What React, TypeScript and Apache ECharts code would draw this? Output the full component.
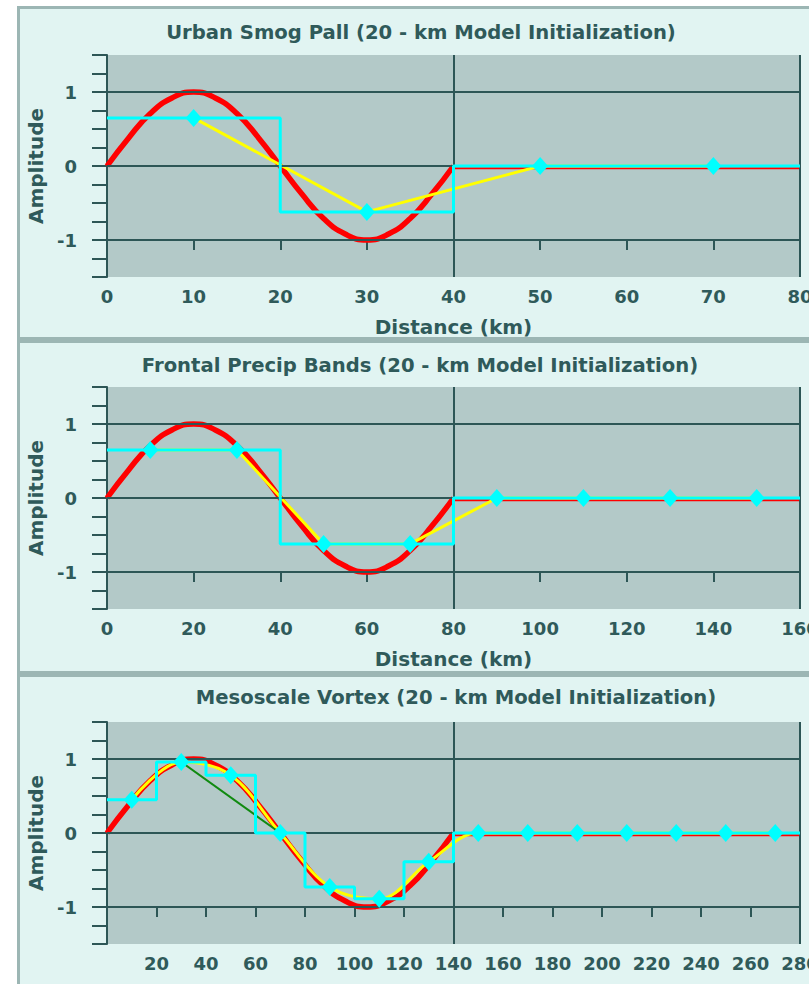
import React, { useEffect, useRef } from "react";
import * as echarts from "echarts";

// ---------- data ----------
const panelTitles = [
  "Urban Smog Pall (20 - km Model Initialization)",
  "Frontal Precip Bands (20 - km Model Initialization)",
  "Mesoscale Vortex (20 - km Model Initialization)",
];
const xAxisName = "Distance (km)";
const yAxisName = "Amplitude";

// normalised true wave shape (one wavelength, 17 samples)
const waveAmp = [0, 0.38, 0.71, 0.92, 1, 0.92, 0.71, 0.38, 0, -0.38, -0.71, -0.92, -1, -0.92, -0.71, -0.38, 0];

// Panel 1 – Urban Smog Pall (0..80 km)
const smogWaveX = [0, 2.5, 5, 7.5, 10, 12.5, 15, 17.5, 20, 22.5, 25, 27.5, 30, 32.5, 35, 37.5, 40];
const smogFlatX = [40, 80];
const smogFlatY = [-0.03, -0.03];
const smogGridX = [0, 20, 40, 80];
const smogGridY = [0.65, -0.62, 0, 0];
const smogPointX = [10, 30, 50, 70];
const smogPointY = [0.65, -0.62, 0, 0];

// Panel 2 – Frontal Precip Bands (0..160 km)
const frontWaveX = [0, 5, 10, 15, 20, 25, 30, 35, 40, 45, 50, 55, 60, 65, 70, 75, 80];
const frontFlatX = [80, 160];
const frontFlatY = [-0.03, -0.03];
const frontGridX = [0, 40, 80, 160];
const frontGridY = [0.65, -0.62, 0, 0];
const frontPointX = [10, 30, 50, 70, 90, 110, 130, 150];
const frontPointY = [0.65, 0.65, -0.62, -0.62, 0, 0, 0, 0];

// Panel 3 – Mesoscale Vortex (0..280 km)
const vortexWaveX = [0, 8.75, 17.5, 26.25, 35, 43.75, 52.5, 61.25, 70, 78.75, 87.5, 96.25, 105, 113.75, 122.5, 131.25, 140];
const vortexFlatX = [140, 280];
const vortexFlatY = [-0.03, -0.03];
const vortexGridX = [0, 20, 40, 60, 80, 100, 120, 140, 280];
const vortexGridY = [0.45, 0.96, 0.78, 0, -0.73, -0.89, -0.39, 0, 0];
const vortexPointX = [10, 30, 50, 70, 90, 110, 130, 150, 170, 190, 210, 230, 250, 270];
const vortexPointY = [0.45, 0.96, 0.78, 0, -0.73, -0.89, -0.39, 0, 0, 0, 0, 0, 0, 0];
const vortexGreenX = [30, 70];
const vortexGreenY = [0.96, 0];

// axis ranges / ticks
const xMax = [80, 160, 280];
const xMid = [40, 80, 140];
const xStep = [10, 20, 20];
const yTickLabels = [-1, 0, 1];

// ---------- styling ----------
const TEXT = "#2f5a5a";
const LINE = "#2d5656";
const PLOT_BG = "#b3c9c8";
const PANEL_BG = "#e1f4f2";
const PANEL_BORDER = "#9cb6b4";
const FONT = "DejaVu Sans";

const zip = (xs: number[], ys: number[]) => xs.map((x, i) => [x, ys[i]]);

const panels = [
  { wx: smogWaveX, fx: smogFlatX, fy: smogFlatY, gx: smogGridX, gy: smogGridY, px: smogPointX, py: smogPointY, smooth: false, green: null as null | number[][] },
  { wx: frontWaveX, fx: frontFlatX, fy: frontFlatY, gx: frontGridX, gy: frontGridY, px: frontPointX, py: frontPointY, smooth: false, green: null as null | number[][] },
  { wx: vortexWaveX, fx: vortexFlatX, fy: vortexFlatY, gx: vortexGridX, gy: vortexGridY, px: vortexPointX, py: vortexPointY, smooth: true, green: zip(vortexGreenX, vortexGreenY) },
];

const gridTops = [55, 387, 722];
const panelTops = [7, 341, 675];
const titleCenters = [[421, 32], [420, 365], [456, 697]];
const GRID_LEFT = 107;
const GRID_W = 693;
const GRID_H = 222;

export default function App() {
  const ref = useRef<HTMLDivElement>(null);

  useEffect(() => {
    if (!ref.current) return;
    const chart = echarts.init(ref.current, undefined, { renderer: "svg" });

    const grid: any[] = [];
    const xAxis: any[] = [];
    const yAxis: any[] = [];
    const series: any[] = [];
    const graphic: any[] = [];

    panels.forEach((p, i) => {
      graphic.push({
        type: "rect",
        z: -10,
        shape: { x: 18.5, y: panelTops[i] + 0.5, width: 830, height: i === 2 ? 360 : 331 },
        style: { fill: PANEL_BG, stroke: PANEL_BORDER, lineWidth: 3 },
        silent: true,
      });
      graphic.push({
        type: "text",
        x: titleCenters[i][0],
        y: titleCenters[i][1],
        z: 10,
        style: {
          text: panelTitles[i],
          fill: TEXT,
          fontFamily: FONT,
          fontWeight: "bold",
          fontSize: 19.6,
          align: "center",
          verticalAlign: "middle",
        },
      });

      grid.push({
        left: GRID_LEFT,
        top: gridTops[i],
        width: GRID_W,
        height: GRID_H,
        outerBoundsMode: "none",
        containLabel: false,
        show: true,
        backgroundColor: PLOT_BG,
        borderWidth: 0,
      });

      // main x axis: labels + name
      xAxis.push({
        gridIndex: i,
        type: "value",
        position: "bottom",
        min: 0,
        max: xMax[i],
        interval: xStep[i],
        axisLine: { show: false, onZero: false },
        axisTick: { show: false },
        splitLine: { show: false },
        axisLabel: {
          margin: 10,
          color: TEXT,
          fontFamily: FONT,
          fontWeight: "bold",
          fontSize: 18,
          showMaxLabel: true,
          showMinLabel: true,
          hideOverlap: false,
          formatter: (v: number) => (i === 2 && v === 0 ? "" : String(v)),
        },
        name: i === 2 ? "" : xAxisName,
        nameLocation: "middle",
        nameGap: 40,
        nameTextStyle: { color: TEXT, fontFamily: FONT, fontWeight: "bold", fontSize: 20 },
      });
      // secondary x axis: ticks hanging from the -1 line
      xAxis.push({
        gridIndex: i,
        type: "value",
        position: "bottom",
        offset: -GRID_H / 6,
        min: 0,
        max: xMax[i],
        interval: xStep[i],
        axisLine: { show: false, onZero: false },
        axisTick: { show: true, inside: false, length: 10, lineStyle: { color: LINE, width: 2 } },
        splitLine: { show: false },
        axisLabel: { show: false },
      });

      yAxis.push({
        gridIndex: i,
        type: "value",
        min: -1.5,
        max: 1.5,
        interval: 0.25,
        axisLine: { show: true, onZero: false, lineStyle: { color: LINE, width: 2 } },
        axisTick: { show: true, length: 15, lineStyle: { color: LINE, width: 2 } },
        splitLine: { show: false },
        axisLabel: {
          margin: 30,
          color: TEXT,
          fontFamily: FONT,
          fontWeight: "bold",
          fontSize: 18,
          formatter: (v: number) => (yTickLabels.indexOf(v) >= 0 ? String(v) : ""),
        },
        name: yAxisName,
        nameLocation: "middle",
        nameGap: 52,
        nameTextStyle: { color: TEXT, fontFamily: FONT, fontWeight: "bold", fontSize: 20 },
      });

      const xi = i * 2;
      const common = { xAxisIndex: xi, yAxisIndex: i, showSymbol: false, silent: true };

      series.push({
        ...common,
        type: "line",
        name: "guides" + i,
        data: [],
        z: 1,
        markLine: {
          silent: true,
          symbol: ["none", "none"],
          label: { show: false },
          lineStyle: { color: LINE, width: 2, type: "solid" },
          data: [
            { yAxis: -1 },
            { yAxis: 0 },
            { yAxis: 1 },
            { xAxis: xMid[i] },
            { xAxis: xMax[i] },
          ],
        },
      });
      series.push({
        ...common,
        type: "line",
        name: "true wave",
        data: zip(p.wx, waveAmp),
        smooth: true,
        lineStyle: { color: "#ff0000", width: 5.5 },
        z: 2,
      });
      series.push({
        ...common,
        type: "line",
        name: "true wave flat",
        data: zip(p.fx, p.fy),
        lineStyle: { color: "#ff0000", width: 2 },
        z: 2,
      });
      series.push({
        ...common,
        type: "line",
        name: "interpolated",
        data: zip(p.px, p.py),
        smooth: p.smooth ? 0.35 : false,
        lineStyle: { color: "#ffff00", width: 3 },
        z: 3,
      });
      if (p.green) {
        series.push({
          ...common,
          type: "line",
          name: "linear",
          data: p.green,
          lineStyle: { color: "#108a10", width: 2 },
          z: 4,
        });
      }
      series.push({
        ...common,
        type: "line",
        name: "grid average",
        data: zip(p.gx, p.gy),
        step: "end",
        lineStyle: { color: "#00ffff", width: 3 },
        z: 5,
      });
      series.push({
        xAxisIndex: xi,
        yAxisIndex: i,
        silent: true,
        type: "scatter",
        name: "grid points",
        data: zip(p.px, p.py),
        symbol: "diamond",
        symbolSize: [16, 18],
        itemStyle: { color: "#00ffff", opacity: 1 },
        z: 6,
      });
    });

    chart.setOption({
      animation: false,
      backgroundColor: "#ffffff",
      grid,
      xAxis,
      yAxis,
      series,
      graphic,
    });

    return () => chart.dispose();
  }, []);

  return (
    <div
      ref={ref}
      style={{ position: "fixed", left: 0, top: 0, width: 809, height: 984 }}
    />
  );
}
